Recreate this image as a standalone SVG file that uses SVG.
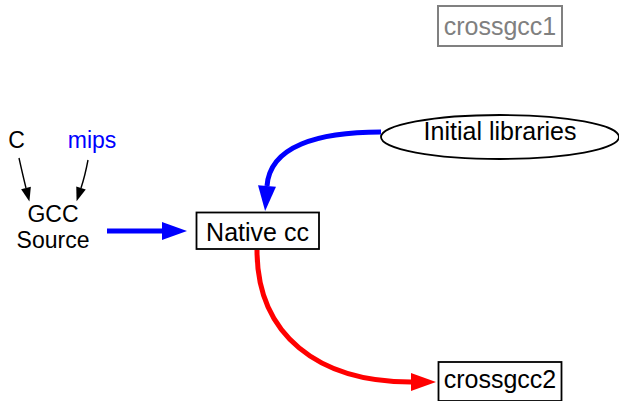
<svg xmlns="http://www.w3.org/2000/svg" width="619" height="401" viewBox="0 0 619 401">
<style>
text{font-family:"Liberation Sans",Arial,sans-serif;font-size:25px;text-anchor:middle;fill:#000}
.sm{font-size:23px}
.box{fill:#fff;stroke:#000;stroke-width:1.8}
.thin{fill:none;stroke:#000;stroke-width:1.4}
.thick{fill:none;stroke-width:5}
</style>
<defs>
<marker id="ab" markerUnits="userSpaceOnUse" markerWidth="26" markerHeight="20" refX="0" refY="9" orient="auto" overflow="visible"><path d="M0,0 L25,9 L0,18 Z" fill="#0000ff"/></marker>
<marker id="ar" markerUnits="userSpaceOnUse" markerWidth="26" markerHeight="20" refX="0" refY="9" orient="auto" overflow="visible"><path d="M0,0 L25,9 L0,18 Z" fill="#ff0000"/></marker>
<marker id="ak" markerUnits="userSpaceOnUse" markerWidth="16" markerHeight="12" refX="0" refY="5" orient="auto" overflow="visible"><path d="M0,0 L14,5 L0,10 Z" fill="#000"/></marker>
</defs>
<g id="crossgcc1"><rect x="438" y="6" width="124" height="40" fill="#fff" stroke="#808080" stroke-width="2"/><text x="500" y="35" style="fill:#808080">crossgcc1</text></g>
<g id="C"><text class="sm" x="16.5" y="148">C</text></g>
<g id="mips"><text class="sm" x="92" y="148" style="fill:#0000ff">mips</text></g>
<g id="gccsource"><text class="sm" x="53" y="222">GCC</text><text class="sm" x="53" y="248">Source</text></g>
<g id="nativecc"><rect class="box" x="196.5" y="212.5" width="122.5" height="36.5"/><text x="257.5" y="240.5">Native cc</text></g>
<g id="initlibs"><ellipse cx="500" cy="137" rx="119" ry="22" fill="#fff" stroke="#000" stroke-width="1.8"/><text x="500" y="139.5">Initial libraries</text></g>
<g id="crossgcc2"><rect class="box" x="438.5" y="362" width="123" height="39"/><text x="500" y="388">crossgcc2</text></g>
<g id="connectors">
<path class="thin" d="M19,158 Q23,176 26,188" marker-end="url(#ak)"/>
<path class="thin" d="M88,160 Q85,176 81,188" marker-end="url(#ak)"/>
<path class="thick" stroke="#0000ff" d="M107,231 L162,231" marker-end="url(#ab)"/>
<path class="thick" stroke="#0000ff" d="M381,132 C318,132 270,146 267,186" marker-end="url(#ab)"/>
<path class="thick" stroke="#ff0000" d="M257,250 C257,335 318,382 411,382" marker-end="url(#ar)"/>
</g>
</svg>
